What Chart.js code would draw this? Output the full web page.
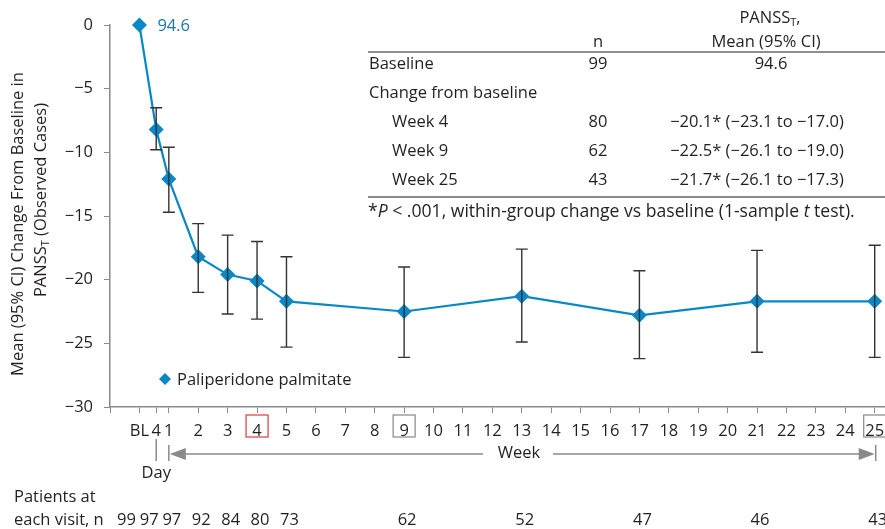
<!DOCTYPE html>
<html>
<head>
<meta charset="utf-8">
<script src="https://cdn.jsdelivr.net/npm/chart.js@4.4.1/dist/chart.umd.min.js"></script>
<style>
  html, body { margin: 0; padding: 0; background: #fff; overflow: hidden; }
  #wrap { width: 885px; height: 529px; position: relative; }
</style>
</head>
<body>
<div id="wrap"><canvas id="c"></canvas></div>
<script>
// visit positions on a week axis (BL = 0, day 4 = 4/7 week)
const visits = [0, 4 / 7, 1, 2, 3, 4, 5, 9, 13, 17, 21, 25];
const means = [0, -8.2, -12.1, -18.2, -19.6, -20.1, -21.7, -22.5, -21.3, -22.8, -21.7, -21.7];
const lower = [null, -9.8, -14.7, -21.0, -22.7, -23.1, -25.3, -26.1, -24.9, -26.2, -25.7, -26.1];
const upper = [null, -6.5, -9.6, -15.6, -16.5, -17.0, -18.2, -19.0, -17.6, -19.3, -17.7, -17.3];
const patients = [99, 97, 97, 92, 84, 80, 73, 62, 52, 47, 46, 43];

const X_MIN = -1, X_MAX = 25.35;
const tickValues = [X_MIN, 0, 4 / 7, 1, 2, 3, 4, 5, 6, 7, 8, 9, 10, 11, 12, 13, 14, 15, 16, 17, 18, 19, 20, 21, 22, 23, 24, 25];
const tickLabels = ["", "BL", "4", "1", "2", "3", "4", "5", "6", "7", "8", "9", "10", "11", "12", "13", "14", "15", "16", "17", "18", "19", "20", "21", "22", "23", "24", "25"];
const boxedTicks = [{ v: 4, color: "#e0393e" }, { v: 9, color: "#888" }, { v: 25, color: "#888" }];

const tableRows = [
  { label: "Baseline", indent: false, n: "99", val: "94.6" },
  { label: "Change from baseline", indent: false, n: "", val: "" },
  { label: "Week 4", indent: true, n: "80", val: "\u221220.1* (\u221223.1 to \u221217.0)" },
  { label: "Week 9", indent: true, n: "62", val: "\u221222.5* (\u221226.1 to \u221219.0)" },
  { label: "Week 25", indent: true, n: "43", val: "\u221221.7* (\u221226.1 to \u221217.3)" },
];

const FONT = "'Open Sans', sans-serif";
const FS = 16.5;
const INK = "#231f20";
const BLUE = "#0a87c6";
const GREY = "#8a8a8a";

function subText(ctx, parts, x, y, align) {
  // parts: [{t, sub}] ; main text with subscript pieces
  let w = 0;
  parts.forEach((p) => { ctx.font = (p.sub ? 11 : FS) + "px " + FONT; w += ctx.measureText(p.t).width; });
  let cx = align === "center" ? x - w / 2 : x;
  ctx.textAlign = "left";
  parts.forEach((p) => {
    ctx.font = (p.sub ? 11 : FS) + "px " + FONT;
    ctx.fillText(p.t, cx, p.sub ? y + 5 : y);
    cx += ctx.measureText(p.t).width;
  });
}

const extras = {
  id: "extras",
  afterDatasetsDraw(chart) {
    const { ctx, scales: { x, y } } = chart;
    // error bars
    ctx.save();
    ctx.strokeStyle = "#333";
    ctx.lineWidth = 1.4;
    visits.forEach((v, i) => {
      if (lower[i] == null) return;
      const px = x.getPixelForValue(v);
      const y1 = y.getPixelForValue(upper[i]), y2 = y.getPixelForValue(lower[i]);
      ctx.beginPath();
      ctx.moveTo(px, y1); ctx.lineTo(px, y2);
      ctx.moveTo(px - 6, y1); ctx.lineTo(px + 6, y1);
      ctx.moveTo(px - 6, y2); ctx.lineTo(px + 6, y2);
      ctx.stroke();
    });
    ctx.restore();
  },
  afterDraw(chart) {
    const { ctx, scales: { x, y } } = chart;
    ctx.save();
    ctx.textBaseline = "middle";
    const F = FS + "px " + FONT;

    // baseline value label
    ctx.fillStyle = "#1b75ad";
    ctx.font = F;
    ctx.textAlign = "left";
    ctx.fillText("94.6", x.getPixelForValue(0) + 18, y.getPixelForValue(0) + 1);

    // y title
    ctx.fillStyle = INK;
    ctx.save();
    ctx.translate(18, 224);
    ctx.rotate(-Math.PI / 2);
    ctx.font = F;
    ctx.textAlign = "center";
    ctx.fillText("Mean (95% CI) Change From Baseline in", 0, 0);
    ctx.restore();
    ctx.save();
    ctx.translate(41, 200);
    ctx.rotate(-Math.PI / 2);
    subText(ctx, [{ t: "PANSS" }, { t: "T", sub: true }, { t: " (Observed Cases)" }], 0, 0, "center");
    ctx.restore();

    // legend
    ctx.fillStyle = BLUE;
    ctx.beginPath();
    const lx = 165, ly = 379;
    ctx.moveTo(lx, ly - 6); ctx.lineTo(lx + 6, ly); ctx.lineTo(lx, ly + 6); ctx.lineTo(lx - 6, ly); ctx.closePath();
    ctx.fill();
    ctx.fillStyle = INK;
    ctx.font = F;
    ctx.textAlign = "left";
    ctx.fillText("Paliperidone palmitate", 177, 380);

    // boxed ticks
    ctx.lineWidth = 1.2;
    boxedTicks.forEach((b) => {
      const px = x.getPixelForValue(b.v);
      ctx.strokeStyle = b.color;
      ctx.strokeRect(px - 11, 415, 22, 22);
    });

    // day / week bracket
    ctx.strokeStyle = GREY;
    ctx.fillStyle = GREY;
    ctx.lineWidth = 1.5;
    const dX = x.getPixelForValue(4 / 7), w1 = x.getPixelForValue(1), w25 = x.getPixelForValue(25);
    ctx.beginPath();
    ctx.moveTo(dX, 439); ctx.lineTo(dX, 461);
    ctx.moveTo(w1, 445); ctx.lineTo(w1, 461);
    ctx.moveTo(w25 + 1, 445); ctx.lineTo(w25 + 1, 461);
    ctx.moveTo(w1 + 14, 454); ctx.lineTo(483, 454);
    ctx.moveTo(553, 454); ctx.lineTo(w25 - 14, 454);
    ctx.stroke();
    ctx.beginPath();
    ctx.moveTo(w1 + 1, 454); ctx.lineTo(w1 + 17, 448); ctx.lineTo(w1 + 17, 460); ctx.closePath();
    ctx.moveTo(w25, 454); ctx.lineTo(w25 - 16, 448); ctx.lineTo(w25 - 16, 460); ctx.closePath();
    ctx.fill();
    ctx.fillStyle = INK;
    ctx.textAlign = "center";
    ctx.fillText("Week", 519, 453);
    ctx.fillText("Day", dX, 473);

    // patients row (first two labels nudged apart, as in the source)
    const nudge = [-13, -7];
    ctx.textAlign = "left";
    ctx.fillText("Patients at", 14, 497);
    ctx.fillText("each visit, n", 14, 520);
    ctx.textAlign = "center";
    visits.forEach((v, i) => {
      ctx.fillText(String(patients[i]), x.getPixelForValue(v) + (nudge[i] != null ? nudge[i] : 3), 520);
    });

    // summary table
    const tL = 368, tR = 885, nX = 598, vX = 757;
    ctx.strokeStyle = INK;
    ctx.lineWidth = 1.2;
    ctx.beginPath(); ctx.moveTo(tL, 52); ctx.lineTo(tR, 52); ctx.stroke();
    ctx.fillStyle = INK;
    subText(ctx, [{ t: "PANSS" }, { t: "T", sub: true }, { t: "," }], 770, 18, "center");
    ctx.font = F;
    ctx.textAlign = "center";
    ctx.fillText("Mean (95% CI)", 766, 42);
    ctx.fillText("n", nX, 42);
    const rowY = [64, 93, 122, 151, 180];
    tableRows.forEach((r, i) => {
      ctx.textAlign = "left";
      ctx.fillText(r.label, r.indent ? tL + 24 : tL + 1, rowY[i]);
      ctx.textAlign = "center";
      if (r.n) ctx.fillText(r.n, nX, rowY[i]);
      if (r.val) ctx.fillText(r.val, r.indent ? vX : 771, rowY[i]);
    });
    ctx.strokeStyle = GREY;
    ctx.lineWidth = 2;
    ctx.beginPath(); ctx.moveTo(tL, 197); ctx.lineTo(tR, 197); ctx.stroke();
    // footnote with italics
    const foot = [{ t: "*" }, { t: "P", it: true }, { t: " < .001, within-group change vs baseline (1-sample " }, { t: "t", it: true }, { t: " test)." }];
    let fx = tL;
    ctx.textAlign = "left";
    foot.forEach((p) => {
      ctx.font = (p.it ? "italic " : "") + "17.6px " + FONT;
      ctx.fillText(p.t, fx, 212);
      fx += ctx.measureText(p.t).width;
    });
    ctx.restore();
  },
};

new Chart(document.getElementById("c"), {
  type: "line",
  data: {
    datasets: [{
      label: "Paliperidone palmitate",
      data: visits.map((v, i) => ({ x: v, y: means[i] })),
      borderColor: BLUE,
      backgroundColor: BLUE,
      borderWidth: 2.2,
      pointStyle: "rectRot",
      pointRadius: 7.5,
      pointHoverRadius: 7.5,
      pointBorderWidth: 0,
      tension: 0,
      clip: false,
    }],
  },
  options: {
    responsive: true,
    maintainAspectRatio: false,
    animation: false,
    layout: { autoPadding: false, padding: { top: 25, right: 0, left: 0, bottom: 0 } },
    plugins: { legend: { display: false }, tooltip: { enabled: false } },
    scales: {
      x: {
        type: "linear",
        min: X_MIN,
        max: X_MAX,
        afterBuildTicks: (s) => { s.ticks = tickValues.map((v) => ({ value: v })); },
        afterFit: (s) => { s.height = 122; s.paddingRight = 0; s.paddingLeft = 0; },
        ticks: {
          autoSkip: false,
          maxRotation: 0,
          padding: 8,
          color: INK,
          font: { family: FONT, size: FS },
          callback: (v, i) => tickLabels[i],
        },
        grid: { drawOnChartArea: false, drawTicks: true, tickLength: 6, color: GREY },
        border: { color: GREY, width: 1.5 },
      },
      y: {
        min: -30,
        max: 0,
        afterFit: (s) => { s.width = 110; },
        ticks: {
          stepSize: 5,
          padding: 11,
          color: INK,
          font: { family: FONT, size: FS },
          callback: (v) => (v < 0 ? "\u2212" + Math.abs(v) : String(v)),
        },
        grid: { drawOnChartArea: false, drawTicks: true, tickLength: 6, color: GREY },
        border: { color: GREY, width: 1.5 },
      },
    },
  },
  plugins: [extras],
});
</script>
</body>
</html>
